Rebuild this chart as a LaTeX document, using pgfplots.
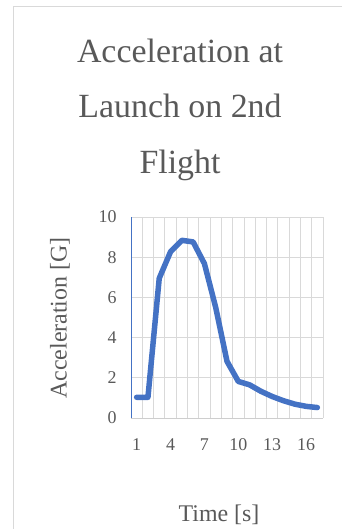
\documentclass[border=0pt]{standalone}
\usepackage{fontspec}
\setmainfont{Liberation Serif}
\usepackage{pgfplots}
\pgfplotsset{compat=1.18}
\definecolor{txtgray}{HTML}{595959}
\definecolor{gridgray}{HTML}{D9D9D9}
\definecolor{lineblue}{HTML}{4472C4}
\begin{document}
\begin{tikzpicture}
\path[use as bounding box] (0bp,0bp) rectangle (342bp,529bp);
\draw[gridgray, line width=1bp] (13bp,0bp) -- (13bp,522bp) -- (342bp,522bp);
\node[anchor=base, text=txtgray, font=\fontsize{34}{38}\selectfont, inner sep=0pt] at (180bp,466bp) {Acceleration at};
\node[anchor=base, text=txtgray, font=\fontsize{34}{38}\selectfont, inner sep=0pt] at (180bp,411bp) {Launch on 2nd};
\node[anchor=base, text=txtgray, font=\fontsize{34}{38}\selectfont, inner sep=0pt] at (180bp,355bp) {Flight};
\node[anchor=base, text=txtgray, font=\fontsize{24}{28}\selectfont, inner sep=0pt] at (219bp,8bp) {Time [s]};
\node[anchor=center, rotate=90, text=txtgray, font=\fontsize{24}{28}\selectfont, inner sep=0pt] at (60bp,211bp) {Acceleration [G]};
\begin{axis}[
  at={(131bp,111bp)}, anchor=south west,
  scale only axis, width=192bp, height=201bp,
  xmin=0.5, xmax=17.5, ymin=0, ymax=10,
  xtick={1,4,7,10,13,16},
  minor xtick={0.5,1.5,...,17.5},
  ytick={0,2,4,6,8,10},
  xmajorgrids=false, xminorgrids=true, ymajorgrids=true,
  grid style={gridgray, line width=0.8bp},
  minor grid style={gridgray, line width=0.8bp},
  major tick length=0pt, minor tick length=0pt,
  axis x line*=bottom, axis y line*=left,
  x axis line style={draw=gridgray!80!black!60, line width=0.8bp, -},
  y axis line style={draw=lineblue, line width=0.8bp, -},
  tick label style={text=txtgray, font=\fontsize{18}{21}\selectfont},
  /pgf/number format/assume math mode=true,
  xticklabel style={yshift=-17bp},
  yticklabel style={xshift=-11bp},
  clip=false,
]
\addplot[lineblue, line width=5.5bp, line join=round, line cap=round] coordinates {
(1,1.03) (2,1.03) (3,6.95) (4,8.27) (5,8.84) (6,8.76) (7,7.68) (8,5.5) (9,2.82)
(10,1.82) (11,1.65) (12,1.33) (13,1.07) (14,0.86) (15,0.69) (16,0.58) (17,0.52)
};
\end{axis}
\end{tikzpicture}
\end{document}
